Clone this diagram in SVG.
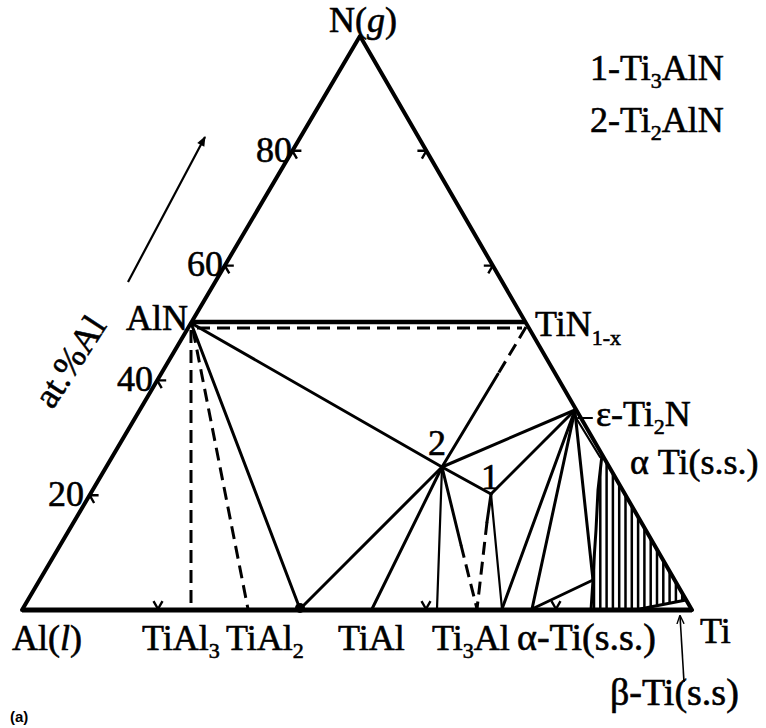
<svg xmlns="http://www.w3.org/2000/svg" width="766" height="728" viewBox="0 0 766 728">
<defs>
<style>
text{font-family:'Liberation Serif','Times New Roman','DejaVu Serif',serif;fill:#000;stroke:#000;stroke-width:0.6}
.t{font-size:36px}
.s{font-size:22px}
.e{fill:none;stroke:#000;stroke-width:4;stroke-linecap:round;stroke-linejoin:round}
.l{fill:none;stroke:#000;stroke-width:3;stroke-linecap:round}
.th{fill:none;stroke:#000;stroke-width:2.2;stroke-linecap:round}
.d{fill:none;stroke:#000;stroke-width:3;stroke-dasharray:13 7}
.tk{fill:none;stroke:#000;stroke-width:2.4}
.h{stroke:#000;stroke-width:2.5}
</style>
<marker id="ah" viewBox="0 0 10 10" refX="9" refY="5" markerWidth="14" markerHeight="10" orient="auto" markerUnits="userSpaceOnUse">
<path d="M0,1 L10,5 L0,9 z" fill="#000"/>
</marker>
<marker id="ah2" viewBox="0 0 10 10" refX="9" refY="5" markerWidth="9" markerHeight="9" orient="auto" markerUnits="userSpaceOnUse">
<path d="M0,1 L10,5 L0,9" fill="none" stroke="#000" stroke-width="1.5"/>
</marker>
<clipPath id="hc">
<polygon points="602,455 598,490 596,530 594,560 593,580 591,610 640,610 686,600"/>
</clipPath>
</defs>
<rect width="766" height="728" fill="#fff"/>

<g id="frame">
<polygon class="e" points="22,610 360,36 692,610"/>
<line x1="22" y1="610" x2="692" y2="610" stroke="#000" stroke-width="5"/>
</g>

<g id="ticks" class="tk">
<path d="M89.6,495.2 h9 M89.6,495.2 l4.5,7.8"/>
<path d="M157.2,380.4 h9 M157.2,380.4 l4.5,7.8"/>
<path d="M224.8,265.6 h9 M224.8,265.6 l4.5,7.8"/>
<path d="M292.4,150.8 h9 M292.4,150.8 l4.5,7.8"/>
<path d="M426.4,150.8 h-9 M426.4,150.8 l-4.5,7.8"/>
<path d="M492.8,265.6 h-9 M492.8,265.6 l-4.5,7.8"/>
<path d="M158,609 l-4.5,-7.8 M158,609 l4.5,-7.8"/>
<path d="M426,609 l-4.5,-7.8 M426,609 l4.5,-7.8"/>
<path d="M556,609 l-4.5,-7.8 M556,609 l4.5,-7.8"/>
</g>

<g id="connectors">
<line x1="191" y1="322" x2="526" y2="322" stroke="#000" stroke-width="4.5"/>
<line class="d" x1="197" y1="328" x2="522" y2="328"/>
<line class="d" x1="526" y1="327" x2="498" y2="374"/>
<line class="l" x1="498" y1="374" x2="442" y2="467"/>
<line class="l" x1="191" y1="323" x2="442" y2="467"/>
<line class="l" x1="191" y1="323" x2="300" y2="609" stroke-width="3.4"/>
<line class="d" x1="191" y1="330" x2="191" y2="609"/>
<line class="d" x1="193" y1="330" x2="248" y2="609"/>
<line class="l" x1="300" y1="609" x2="442" y2="467" stroke-width="3.8"/>
<circle cx="300" cy="608" r="5" fill="#000"/>
<line class="l" x1="372" y1="609" x2="442" y2="467"/>
<line class="th" x1="442" y1="467" x2="437" y2="609"/>
<line class="l" x1="442" y1="467" x2="461" y2="545"/>
<line class="d" x1="461" y1="545" x2="477" y2="609"/>
<line class="l" x1="491" y1="494" x2="487" y2="522"/>
<line class="d" x1="487" y1="522" x2="477" y2="609"/>
<line class="th" x1="491" y1="494" x2="502" y2="609" stroke-width="2.4"/>
<line class="l" x1="442" y1="467" x2="491" y2="494"/>
<line class="l" x1="442" y1="467" x2="575" y2="410"/>
<line class="l" x1="491" y1="494" x2="575" y2="410"/>
<line class="l" x1="575" y1="410" x2="502" y2="609"/>
<line class="l" x1="575" y1="410" x2="532" y2="609"/>
<line class="l" x1="575" y1="412" x2="593" y2="580" stroke-width="2.6"/>
<line class="l" x1="532" y1="609" x2="593" y2="580" stroke-width="2.6"/>
<line class="th" x1="573" y1="413" x2="600" y2="457"/>
<line class="th" x1="578" y1="418" x2="592" y2="418"/>
<path class="l" d="M640,609 L686,600"/>
<path class="l" d="M602,455 L598,490 L596,530 L594,560 L593,580 L591,610" stroke-width="3"/>
<line x1="128" y1="282" x2="205" y2="137" stroke="#000" stroke-width="2.2" marker-end="url(#ah)"/>
<line x1="684" y1="682" x2="680" y2="616" stroke="#000" stroke-width="1.6" marker-end="url(#ah2)"/>
</g>

<g id="hatch" clip-path="url(#hc)">
<line class="h" x1="594" y1="440" x2="594" y2="612"/>
<line class="h" x1="600.3" y1="440" x2="600.3" y2="612"/>
<line class="h" x1="606.6" y1="440" x2="606.6" y2="612"/>
<line class="h" x1="612.9" y1="440" x2="612.9" y2="612"/>
<line class="h" x1="619.2" y1="440" x2="619.2" y2="612"/>
<line class="h" x1="625.5" y1="440" x2="625.5" y2="612"/>
<line class="h" x1="631.8" y1="440" x2="631.8" y2="612"/>
<line class="h" x1="638.1" y1="440" x2="638.1" y2="612"/>
<line class="h" x1="644.4" y1="440" x2="644.4" y2="612"/>
<line class="h" x1="650.7" y1="440" x2="650.7" y2="612"/>
<line class="h" x1="657" y1="440" x2="657" y2="612"/>
<line class="h" x1="663.3" y1="440" x2="663.3" y2="612"/>
<line class="h" x1="669.6" y1="440" x2="669.6" y2="612"/>
<line class="h" x1="675.9" y1="440" x2="675.9" y2="612"/>
<line class="h" x1="682.2" y1="440" x2="682.2" y2="612"/>
</g>

<g id="n-apex"><text class="t" x="363" y="32" text-anchor="middle">N(<tspan font-style="italic">g</tspan>)</text></g>
<g id="legend1"><text class="t" x="590" y="80">1-Ti<tspan class="s" dy="8">3</tspan><tspan dy="-8">AlN</tspan></text></g>
<g id="legend2"><text class="t" x="590" y="132">2-Ti<tspan class="s" dy="8">2</tspan><tspan dy="-8">AlN</tspan></text></g>
<g id="axis-labels">
<text class="t" x="292" y="162" text-anchor="end">80</text>
<text class="t" x="223" y="276" text-anchor="end">60</text>
<text class="t" x="153" y="391" text-anchor="end">40</text>
<text class="t" x="84" y="506" text-anchor="end">20</text>
<text class="t" x="80" y="368" text-anchor="middle" transform="rotate(-57 80 368)">at.%Al</text>
</g>
<g id="AlN"><text class="t" x="188" y="330" text-anchor="end">AlN</text></g>
<g id="TiN"><text class="t" x="535" y="336">TiN<tspan class="s" font-size="19" dy="9">1-x</tspan></text></g>
<g id="p2"><text class="t" x="428" y="455">2</text></g>
<g id="p1"><text class="t" x="481" y="489">1</text></g>
<g id="eps"><text class="t" x="596" y="426">ε-Ti<tspan class="s" dy="8">2</tspan><tspan dy="-8">N</tspan></text></g>
<g id="alphaTi"><text class="t" x="630" y="474" font-size="35">α Ti(s.s.)</text></g>
<g id="Ti"><text class="t" x="700" y="643">Ti</text></g>
<g id="bottom-labels">
<text class="t" x="12" y="650">Al(<tspan font-style="italic">l</tspan>)</text>
<text class="t" x="142" y="650">TiAl<tspan class="s" dy="8">3</tspan></text>
<text class="t" x="226" y="650">TiAl<tspan class="s" dy="8">2</tspan></text>
<text class="t" x="338" y="650">TiAl</text>
<text class="t" x="432" y="650">Ti<tspan class="s" dy="8">3</tspan><tspan dy="-8">Al</tspan></text>
<text x="517" y="650" style="font-size:38px">α-Ti(s.s.)</text>
<text x="610" y="705" style="font-size:38px">β-Ti(s.s)</text>
</g>
<g id="caption"><text x="10" y="722" style="font-family:'Liberation Sans',Arial,sans-serif;stroke:none" font-weight="bold" font-size="15">(a)</text></g>
</svg>
